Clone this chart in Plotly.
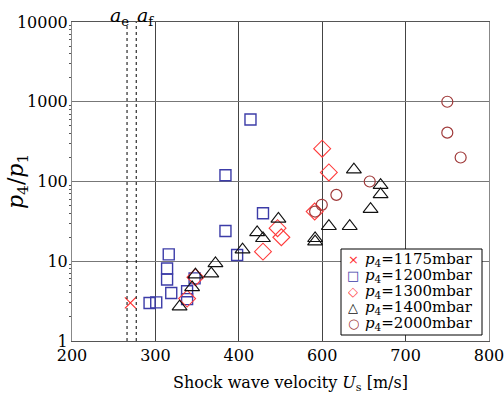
import numpy as np
import plotly.graph_objects as go

# ---- data (x in m/s as labelled on the axis, y = p4/p1) ----
x_tick_labels = [200, 300, 400, 600, 700, 800]

x_1175 = [270]
y_1175 = [3.0]

x_1200 = [293, 301, 316, 314, 314, 319, 338, 338, 347, 384, 398, 458, 384, 428]
y_1200 = [3.0, 3.05, 12.2, 8.1, 5.9, 4.0, 4.2, 3.35, 6.1, 24, 12, 40, 120, 600]

x_1300 = [348, 338, 600, 608, 493, 502, 458, 582]
y_1300 = [6.3, 3.4, 258, 130, 26, 20, 13.2, 42]

x_1400 = [329, 344, 348, 367, 372, 409, 444, 458, 495, 583, 583, 608, 633, 638, 658, 670, 670]
y_1400 = [2.7, 4.7, 6.8, 7.0, 9.4, 14, 23, 19.4, 34, 19.4, 17.6, 27.5, 27.5, 141, 45, 69, 90]

x_2000 = [583, 599, 617, 657, 750, 750, 766]
y_2000 = [42, 51, 68, 100, 1000, 410, 200]

sound_speeds = [266, 277]
sound_labels = ["<i>a</i><sub>e</sub>", "<i>a</i><sub>f</sub>"]

series_names = ["1175", "1200", "1300", "1400", "2000"]

# axis is drawn with equally spaced labelled ticks
tick_pos = list(range(len(x_tick_labels)))


def xmap(v):
    return np.interp(v, x_tick_labels, tick_pos)


FONT = "DejaVu Serif"
styles = [
    dict(symbol="x-thin-open", size=11, color="#ff3030", width=1.2),
    dict(symbol="square-open", size=11, color="#3c3ca8", width=1.4),
    dict(symbol="diamond-open", size=13, color="#ff3a3a", width=1.1),
    dict(symbol="triangle-up-open", size=13, color="#111111", width=1.1),
    dict(symbol="circle-open", size=11, color="#a03a3a", width=1.2),
]
legend_glyphs = ["×", "□", "◇", "△", "○"]
xs = [x_1175, x_1200, x_1300, x_1400, x_2000]
ys = [y_1175, y_1200, y_1300, y_1400, y_2000]

fig = go.Figure()
for name, st, xv, yv in zip(series_names, styles, xs, ys):
    fig.add_trace(go.Scatter(
        x=xmap(xv), y=yv, mode="markers", name=name, showlegend=False,
        marker=dict(symbol=st["symbol"], size=st["size"], color=st["color"],
                    line=dict(color=st["color"], width=st["width"])),
    ))

# plot area geometry (pixels)
L, R, T, B = 72, 489, 22, 341
W, H = 504, 399


def px2paper(px, py):
    return (px - L) / (R - L), (B - py) / (B - T)


shapes = []
annotations = []
_, ytop = px2paper(0, 2)
for sp, lab, sh in zip(sound_speeds, sound_labels, [-8, 9]):
    shapes.append(dict(type="line", xref="x", yref="y domain",
                       x0=float(xmap(sp)), x1=float(xmap(sp)), y0=0, y1=1,
                       line=dict(color="black", width=1, dash="dot")))
    annotations.append(dict(x=float(xmap(sp)), y=ytop, xref="x", yref="paper",
                            xshift=sh, yanchor="top",
                            text=lab, showarrow=False,
                            font=dict(family=FONT, size=19, color="black")))

# axis titles
tx_, ty_ = px2paper(290, 383)
annotations.append(dict(x=tx_, y=ty_, xref="paper", yref="paper",
                        text="Shock wave velocity <i>U</i><sub>s</sub> [m/s]",
                        showarrow=False, xanchor="center", yanchor="middle",
                        font=dict(family=FONT, size=16, color="black")))
tx_, ty_ = px2paper(18, 182)
annotations.append(dict(x=tx_, y=ty_, xref="paper", yref="paper",
                        text="<i>p</i><sub>4</sub>/<i>p</i><sub>1</sub>",
                        textangle=-90,
                        showarrow=False, xanchor="center", yanchor="middle",
                        font=dict(family=FONT, size=22, color="black")))

# custom legend
bx0, by0 = px2paper(341, 249)
bx1, by1 = px2paper(482, 335)
shapes.append(dict(type="rect", xref="paper", yref="paper",
                   x0=bx0, x1=bx1, y0=by1, y1=by0,
                   line=dict(color="black", width=1), fillcolor="white",
                   layer="above"))
for i, (name, st, g) in enumerate(zip(series_names, styles, legend_glyphs)):
    cy = 259 + i * 16
    gx, gy = px2paper(353, cy)
    tx, _ = px2paper(363, cy)
    annotations.append(dict(x=gx, y=gy, xref="paper", yref="paper",
                            text=g, showarrow=False, xanchor="center",
                            yanchor="middle", height=15,
                            font=dict(family="DejaVu Sans", size=13,
                                      color=st["color"])))
    annotations.append(dict(x=tx, y=gy, xref="paper", yref="paper",
                            text=f"<i>p</i><sub>4</sub>={name}mbar",
                            showarrow=False, xanchor="left", yanchor="middle",
                            height=15,
                            font=dict(family=FONT, size=15, color="black")))

fig.update_layout(
    width=W, height=H,
    margin=dict(l=L, r=W - R, t=T, b=H - B, autoexpand=False),
    plot_bgcolor="white", paper_bgcolor="white",
    font=dict(family=FONT, size=16, color="black"),
    shapes=shapes, annotations=annotations,
    showlegend=False,
)
fig.update_xaxes(
    range=[0, len(x_tick_labels) - 1], automargin=False,
    ticklabeloverflow="allow",
    tickvals=tick_pos, ticktext=[str(t) for t in x_tick_labels],
    showgrid=True, gridcolor="#444444", gridwidth=1,
    showline=True, linecolor="#555555", linewidth=1, mirror=True,
    zeroline=False, ticks="",
    tickfont=dict(family=FONT, size=16),
)
fig.update_yaxes(
    type="log", range=[0, 4], dtick=1, automargin=False,
    ticklabeloverflow="allow",
    tickvals=[1, 10, 100, 1000, 10000],
    ticktext=["1", "10", "100", "1000", "10000"],
    showgrid=True, gridcolor="#777777", gridwidth=1,
    showline=True, linecolor="#888888", linewidth=1, mirror=True,
    zeroline=False, ticks="",
    minor=dict(ticks="outside", ticklen=2, tickcolor="#555555",
               tickvals=[v * 10 ** d for d in range(4) for v in range(2, 10)]),
    tickfont=dict(family=FONT, size=16),
)

fig.write_html("out.html")
